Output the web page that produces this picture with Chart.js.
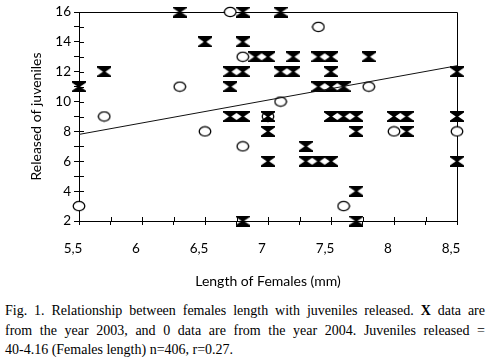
<!DOCTYPE html>
<html>
<head>
<meta charset="utf-8">
<script src="https://cdn.jsdelivr.net/npm/chart.js@4.4.1/dist/chart.umd.min.js"></script>
<style>
  html, body { margin: 0; padding: 0; background: #fff; }
  #wrap { position: relative; width: 491px; height: 290px; }
  #caption {
    position: absolute; left: 5px; top: 301px; width: 480px;
    font-family: "Liberation Serif", "DejaVu Serif", serif;
    font-size: 14px; line-height: 19.5px; color: #000;
  }
  #caption div { white-space: nowrap; }
  #caption .j { text-align: justify; text-align-last: justify; white-space: normal; }
</style>
</head>
<body>
<div id="wrap"><canvas id="myChart"></canvas></div>
<div id="caption">
  <div class="j">Fig. 1. Relationship between females length with juveniles released. <b>X</b> data are</div>
  <div class="j">from the year 2003, and 0 data are from the year 2004. Juveniles released =</div>
  <div>40-4.16 (Females length) n=406, r=0.27.</div>
</div>
<script>
// data from 2003 (hourglass marks)
const len2003 = [5.5, 5.7, 6.3, 6.5, 6.8, 6.8, 6.7, 6.8, 6.7, 6.7, 6.8, 6.8, 7.1, 6.9, 7.0, 7.2, 7.4, 7.5, 7.8, 7.1, 7.2, 7.5, 8.5, 7.4, 7.5, 7.6, 7.0, 7.5, 7.6, 7.7, 8.0, 8.1, 8.5, 7.0, 7.7, 8.1, 7.3, 7.0, 7.3, 7.4, 7.5, 8.5, 7.7, 7.7];
const juv2003 = [11, 12, 16, 14, 16, 14, 12, 12, 11, 9, 9, 2, 16, 13, 13, 13, 13, 13, 13, 12, 12, 12, 12, 11, 11, 11, 9, 9, 9, 9, 9, 9, 9, 8, 8, 8, 7, 6, 6, 6, 6, 6, 4, 2];
// data from 2004 (open circles)
const len2004 = [6.7, 7.4, 6.8, 6.3, 7.8, 7.1, 5.7, 7.0, 6.5, 8.0, 8.5, 6.8, 5.5, 7.6];
const juv2004 = [16, 15, 13, 11, 11, 10, 9, 9, 8, 8, 8, 7, 3, 3];
// regression line
const trendLen = [5.5, 8.5];
const trendJuv = [7.8, 12.4];

const xTickLabels = ["5,5", "6", "6,5", "7", "7,5", "8", "8,5"];
const yTickLabels = ["2", "4", "6", "8", "10", "12", "14", "16"];

function toPoints(xs, ys) {
  return xs.map((x, i) => ({ x: x, y: ys[i] }));
}

// hourglass marker
const hourglass = document.createElement("canvas");
hourglass.width = 14;
hourglass.height = 11;
(function () {
  const c = hourglass.getContext("2d");
  c.fillStyle = "#000";
  c.beginPath();
  c.moveTo(0, 0); c.lineTo(14, 0); c.lineTo(14, 1.5); c.lineTo(8.2, 5.5);
  c.lineTo(14, 9.5); c.lineTo(14, 11); c.lineTo(0, 11); c.lineTo(0, 9.5);
  c.lineTo(5.8, 5.5); c.lineTo(0, 1.5);
  c.closePath();
  c.fill();
})();

// open oval marker (white inside, covers the axis like the print)
const oval = document.createElement("canvas");
oval.width = 14;
oval.height = 12;
(function () {
  const c = oval.getContext("2d");
  c.fillStyle = "#fff";
  c.strokeStyle = "#000";
  c.lineWidth = 1.3;
  c.beginPath();
  c.ellipse(7, 6, 5.8, 4.6, 0, 0, Math.PI * 2);
  c.fill();
  c.stroke();
})();

// inner half of the tick marks + top/right frame, under the marks
const frame = {
  id: "frame",
  beforeDatasetsDraw(chart) {
    const { ctx, chartArea, scales } = chart;
    ctx.save();
    ctx.strokeStyle = "#000";
    ctx.lineWidth = 1;
    ctx.beginPath();
    ctx.moveTo(chartArea.left, chartArea.top + 0.5);
    ctx.lineTo(chartArea.right + 0.5, chartArea.top + 0.5);
    ctx.lineTo(chartArea.right + 0.5, chartArea.bottom);
    scales.x.ticks.forEach((t) => {
      const px = Math.round(scales.x.getPixelForValue(t.value)) + 0.5;
      ctx.moveTo(px, chartArea.bottom);
      ctx.lineTo(px, chartArea.bottom - 4);
    });
    scales.y.ticks.forEach((t) => {
      const py = Math.round(scales.y.getPixelForValue(t.value)) + 0.5;
      ctx.moveTo(chartArea.left, py);
      ctx.lineTo(chartArea.left + 5, py);
    });
    ctx.stroke();
    ctx.restore();
  },
};

const axisFont = { family: "Lato, 'Open Sans', sans-serif", size: 13.5 };

// dataset 0 is drawn last (on top), so: line, hourglasses, then circles underneath
new Chart(document.getElementById("myChart"), {
  type: "scatter",
  data: {
    datasets: [
      {
        type: "line",
        data: toPoints(trendLen, trendJuv),
        borderColor: "#111",
        borderWidth: 1,
        pointRadius: 0,
        fill: false,
        clip: false,
      },
      {
        data: toPoints(len2003, juv2003),
        pointStyle: hourglass,
        clip: false,
      },
      {
        data: toPoints(len2004, juv2004),
        pointStyle: oval,
        clip: false,
      },
    ],
  },
  options: {
    responsive: true,
    maintainAspectRatio: false,
    animation: false,
    layout: { padding: { top: 12, right: 34, left: 0, bottom: 0 } },
    plugins: { legend: { display: false }, tooltip: { enabled: false } },
    scales: {
      x: {
        type: "linear",
        min: 5.5,
        max: 8.5,
        afterFit(scale) { scale.height = 69; },
        border: { display: true, color: "#000", width: 1 },
        grid: { drawOnChartArea: false, drawTicks: true, tickLength: 4, color: "#000" },
        ticks: {
          stepSize: 0.25,
          autoSkip: false,
          maxRotation: 0,
          padding: 16,
          labelOffset: -6,
          color: "#000",
          font: axisFont,
          callback: (value, index) => (index % 2 === 0 ? xTickLabels[index / 2] : ""),
        },
        title: {
          display: true,
          text: "Length of Females (mm)",
          color: "#000",
          font: { family: "Lato, 'Open Sans', sans-serif", size: 14 },
          padding: { top: 0, bottom: 0 },
        },
      },
      y: {
        min: 2,
        max: 16,
        afterFit(scale) { scale.width = 79; },
        border: { display: true, color: "#000", width: 1 },
        grid: { drawOnChartArea: false, drawTicks: true, tickLength: 5, color: "#000" },
        ticks: {
          stepSize: 1,
          autoSkip: false,
          padding: 3,
          color: "#000",
          font: axisFont,
          callback: (value, index) => (index % 2 === 0 ? yTickLabels[index / 2] : ""),
        },
        title: {
          display: true,
          text: "Released of juveniles",
          color: "#000",
          font: { family: "Lato, 'Open Sans', sans-serif", size: 14 },
          padding: { top: 28, bottom: 0 },
        },
      },
    },
  },
  plugins: [frame],
});
</script>
</body>
</html>
